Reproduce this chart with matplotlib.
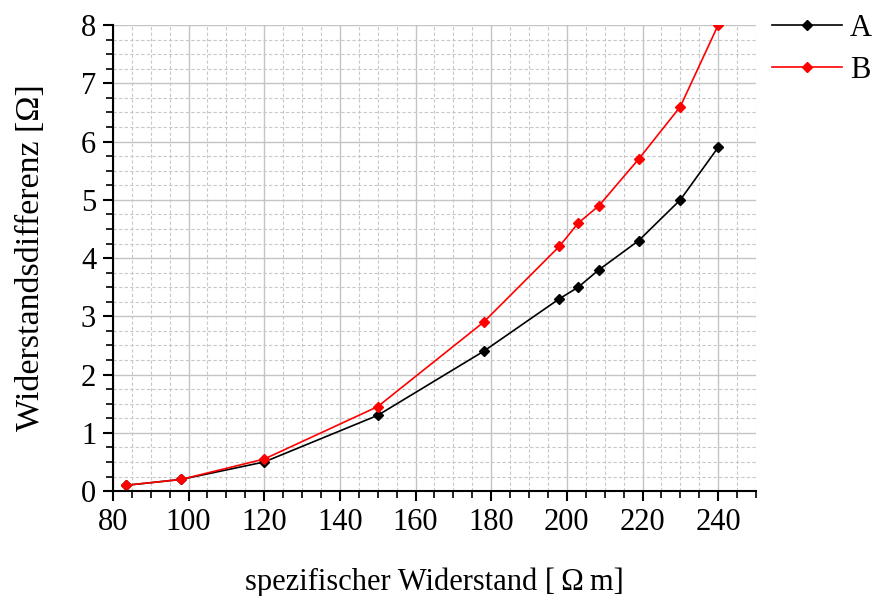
import matplotlib.pyplot as plt
from matplotlib.ticker import MultipleLocator

# spezifischer Widerstand [Ohm m]
x_vals = [83.5, 98, 120, 150, 178, 198, 203, 208.5, 219, 230, 240]
# Widerstandsdifferenz [Ohm]
a_vals = [0.1, 0.2, 0.5, 1.3, 2.4, 3.3, 3.5, 3.8, 4.3, 5.0, 5.9]
b_vals = [0.1, 0.2, 0.55, 1.45, 2.9, 4.2, 4.6, 4.9, 5.7, 6.6, 8.0]

plt.rcParams['font.family'] = ['Liberation Serif', 'DejaVu Serif']

fig = plt.figure(figsize=(8.75, 5.96), dpi=100)
ax = fig.add_axes([0.129, 0.176, 0.735, 0.782])

ax.plot(x_vals, a_vals, marker='D', markersize=5.5, color='black', lw=1.2, label='A')
ax.plot(x_vals, b_vals, marker='D', markersize=5.5, color='red', lw=1.2, label='B')

ax.set_xlim(80, 250)
ax.set_ylim(0, 8)
ax.xaxis.set_major_locator(MultipleLocator(20))
ax.xaxis.set_minor_locator(MultipleLocator(5))
ax.yaxis.set_major_locator(MultipleLocator(1))
ax.yaxis.set_minor_locator(MultipleLocator(0.25))

ax.grid(which='major', color='#c4c4c4', lw=1.0, ls='-')
ax.grid(which='minor', color='#c8c8c8', lw=0.8, ls=(0, (3, 2)))
ax.set_axisbelow(True)

for s in ['top', 'right']:
    ax.spines[s].set_visible(False)
for s in ['left', 'bottom']:
    ax.spines[s].set_linewidth(1.5)

ax.tick_params(which='major', length=7, width=1.5, labelsize=22, direction='out', pad=5)
ax.tick_params(which='minor', length=5, width=1.2, direction='out')

ax.set_xlabel('spezifischer Widerstand [\u2009\u03a9\u2009m]', fontsize=22, labelpad=22)
ax.set_ylabel('Widerstandsdifferenz [\u03a9]', fontsize=24.5, labelpad=25)

fig.legend(loc='upper left', bbox_to_anchor=(0.882, 0.977), frameon=False,
           fontsize=22, handlelength=2.3, handletextpad=0.25, labelspacing=0.42,
           borderpad=0, borderaxespad=0)

fig.savefig('out.png', dpi=100)
